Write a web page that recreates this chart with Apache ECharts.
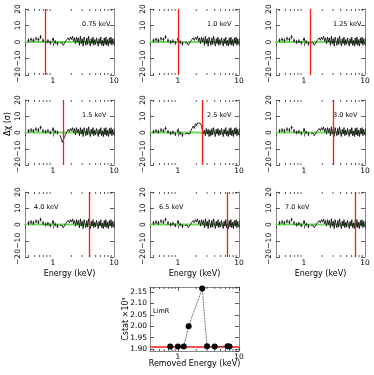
<!DOCTYPE html>
<html>
<head>
<meta charset="utf-8">
<script src="https://cdn.jsdelivr.net/npm/echarts@6/dist/echarts.min.js"></script>
<style>
html, body { margin: 0; padding: 0; background: #fff; }
#chart { width: 374px; height: 375px; }
</style>
</head>
<body>
<div id="chart"></div>
<script>
// one panel per removed line
var removedE = [0.75, 1.0, 1.25, 1.5, 2.5, 3.0, 4.0, 6.5, 7.0];
var panelLabels = ['0.75 keV', '1.0 keV', '1.25 keV', '1.5 keV', '2.5 keV', '3.0 keV', '4.0 keV', '6.5 keV', '7.0 keV'];

// low energy bins (drawn as crosses)
var lowE = [0.40, 0.44, 0.48, 0.53, 0.58, 0.63, 0.69, 0.76, 0.83, 0.91, 1.00, 1.09, 1.19];
var lowBase = [1.0, 1.5, 1.0, 2.0, 1.5, 3.0, 1.0, 0.0, 0.5, -0.5, 1.5, 0.0, -1.0];
var low15 = [1.0, 1.5, 1.0, 2.0, 1.5, 3.0, 1.0, 0.5, 1.0, 0.0, 2.0, 0.5, 0.0];
var low25 = [0.5, 1.0, 0.5, 1.5, 1.0, 2.5, 0.5, -0.5, 0.0, -1.0, 1.0, -0.5, -1.5];

// dense bins above ~1.3 keV
var denseE = [1.30, 1.36, 1.42, 1.48, 1.55, 1.62, 1.70, 1.78, 1.86, 1.94,
  2.02, 2.10, 2.18, 2.26, 2.35, 2.44, 2.53, 2.62, 2.72, 2.82,
  2.92, 3.02, 3.13, 3.24, 3.35, 3.47, 3.59, 3.71, 3.84, 3.97,
  4.10, 4.24, 4.38, 4.53, 4.68, 4.84, 5.00, 5.17, 5.34, 5.52,
  5.70, 5.89, 6.08, 6.28, 6.49, 6.70, 6.92, 7.15, 7.38, 7.62,
  7.87, 8.13, 8.40, 8.67, 8.95, 9.24, 9.54, 9.85];
var resBase = [-0.5, -1.0, -0.5, -2.0, -1.0, 0.5, 1.0, 2.5, 1.0, 3.0,
  1.5, 3.5, 0.5, 2.5, -1.0, 3.0, 0.0, 2.5, -2.0, 3.5,
  -1.0, 2.0, -2.5, 3.0, 0.5, -2.0, 2.5, -1.5, 3.5, 0.0,
  -2.5, 2.0, -1.0, 3.0, -2.0, 1.5, -1.5, 2.5, 0.0, -2.5,
  2.0, -1.0, 3.0, -2.0, 1.0, -2.5, 2.5, -1.5, 3.0, -2.0,
  1.5, -2.5, 2.5, -1.0, 3.0, -2.0, 2.0, -1.5];
var res15 = [-1.5, -3.5, -6.0, -5.0, -3.0, -1.0, 0.5, 2.0, 0.5, 2.5,
  1.0, 3.0, 0.0, 2.5, -1.5, 3.0, 0.0, 2.0, -2.0, 3.0,
  -1.0, 2.0, -2.5, 3.0, 0.5, -2.0, 2.5, -1.5, 3.5, 0.0,
  -2.5, 2.0, -1.0, 3.0, -2.0, 1.5, -1.5, 2.5, 0.0, -2.5,
  2.0, -1.0, 3.0, -2.0, 1.0, -2.5, 2.5, -1.5, 3.0, -2.0,
  1.5, -2.5, 2.5, -1.0, 3.0, -2.0, 2.0, -1.5];
var res25 = [-1.0, -1.0, -0.5, -1.5, -1.0, 0.0, 2.5, 4.0, 2.5, 5.5,
  4.0, 6.0, 5.0, 7.0, 5.5, 4.0, 1.0, -1.0, 1.5, -2.0,
  2.5, -1.0, 2.0, -2.5, 1.5, -2.0, 2.5, -1.5, 3.0, 0.0,
  -2.5, 2.0, -1.0, 2.5, -2.0, 1.5, -1.5, 2.5, 0.0, -2.5,
  2.0, -1.0, 3.0, -2.0, 1.0, -2.5, 2.5, -1.5, 3.0, -2.0,
  1.5, -2.5, 2.5, -1.0, 3.0, -2.0, 2.0, -1.5];

var panelLow = [lowBase, lowBase, lowBase, low15, low25, lowBase, lowBase, lowBase, lowBase];
var panelRes = [resBase, resBase, resBase, res15, res25, resBase, resBase, resBase, resBase];

// bottom panel: Cstat (x10^3) after removing each line
var cstat = [1.911, 1.911, 1.911, 2.000, 2.165, 1.912, 1.911, 1.912, 1.911];
var cstatRef = 1.910;

var minorX = [0.4, 0.5, 0.6, 0.7, 0.8, 0.9, 2, 3, 4, 5, 6, 7, 8, 9];

var FONT = 'DejaVu Sans';
var colLeft = [25, 150, 276];
var rowTop = [9, 100, 192];
var rowH = [66, 65, 65];
var PW = 89;
var FRAME = '#888';
var TICK = '#333';

var grids = [], xAxes = [], yAxes = [], series = [], texts = [];

function minus(v) { return v < 0 ? '\u2212' + (-v) : String(v); }
function xFmt(v) { return v >= 1 ? String(Math.round(v)) : ''; }
function fix2(v) { return v.toFixed(2); }

function minorTicks(params, api) {
  var cs = params.coordSys;
  var x = api.coord([api.value(0), api.value(1)])[0];
  return { type: 'group', children: [
    { type: 'line', shape: { x1: x, y1: cs.y, x2: x, y2: cs.y + 2 }, style: { stroke: TICK, lineWidth: 0.8 } },
    { type: 'line', shape: { x1: x, y1: cs.y + cs.height, x2: x, y2: cs.y + cs.height - 2 }, style: { stroke: TICK, lineWidth: 0.8 } }
  ] };
}

function crossItem(params, api) {
  var e = api.value(0), r = api.value(1);
  var p = api.coord([e, r]);
  var l = api.coord([e / 1.04, r])[0], rr = api.coord([e * 1.04, r])[0];
  var t = api.coord([e, r + 1.2])[1], b = api.coord([e, r - 1.2])[1];
  return { type: 'group', children: [
    { type: 'line', shape: { x1: l, y1: p[1], x2: rr, y2: p[1] }, style: { stroke: '#000', lineWidth: 0.8 } },
    { type: 'line', shape: { x1: p[0], y1: t, x2: p[0], y2: b }, style: { stroke: '#000', lineWidth: 0.8 } }
  ] };
}

function xAxisOpt(gi, pos) {
  return { type: 'log', logBase: 10, gridIndex: gi, position: pos, min: 0.35, max: 10,
    splitLine: { show: false },
    axisLine: { show: true, lineStyle: { color: FRAME, width: 1 } },
    axisTick: { show: true, inside: true, length: 4, lineStyle: { color: TICK, width: 0.8 } },
    axisLabel: pos === 'bottom'
      ? { show: true, fontFamily: FONT, fontSize: 7.5, color: '#000', margin: 2, showMinLabel: false, formatter: xFmt }
      : { show: false } };
}

function yAxisOpt(gi, pos, min, max, interval, label) {
  var o = { type: 'value', gridIndex: gi, position: pos, min: min, max: max,
    splitLine: { show: false },
    axisLine: { show: true, lineStyle: { color: FRAME, width: 1 } },
    axisTick: { show: true, inside: true, length: 4, lineStyle: { color: TICK, width: 0.8 } },
    axisLabel: pos === 'left' ? label : { show: false } };
  if (interval) o.interval = interval;
  return o;
}

for (var i = 0; i < 9; i++) {
  var col = i % 3, row = Math.floor(i / 3);
  var gLeft = colLeft[col], gTop = rowTop[row];
  grids.push({ left: gLeft, top: gTop, width: PW, height: rowH[row] });
  xAxes.push(xAxisOpt(i, 'bottom'));
  xAxes.push(xAxisOpt(i, 'top'));
  yAxes.push(yAxisOpt(i, 'left', -20, 20, 10,
    { show: true, fontFamily: FONT, fontSize: 7.5, color: '#000', rotate: 90, margin: 3, formatter: minus }));
  yAxes.push(yAxisOpt(i, 'right', -20, 20, 10, null));
  var xa = 2 * i, ya = 2 * i;
  // model at zero, with the removed line marked
  series.push({ type: 'line', xAxisIndex: xa, yAxisIndex: ya, data: [[0.35, 0], [10, 0]],
    symbol: 'none', silent: true, lineStyle: { color: '#6fdc5c', width: 2 }, z: 2,
    markLine: { symbol: ['none', 'none'], silent: true, label: { show: false },
      lineStyle: { color: '#ff1a1a', width: 1.3, type: 'solid' },
      data: [{ xAxis: removedE[i] }] } });
  var lowPts = lowE.map(function (e, k) { return [e, panelLow[i][k]]; });
  var dense = denseE.map(function (e, k) { return [e, panelRes[i][k]]; });
  series.push({ type: 'custom', xAxisIndex: xa, yAxisIndex: ya, data: lowPts,
    renderItem: crossItem, silent: true, z: 4 });
  series.push({ type: 'line', xAxisIndex: xa, yAxisIndex: ya, data: dense, symbol: 'none',
    silent: true, lineStyle: { color: '#000', width: 0.8 }, z: 4 });
  series.push({ type: 'custom', xAxisIndex: xa, yAxisIndex: ya,
    data: minorX.map(function (v) { return [v, 0]; }), renderItem: minorTicks, silent: true, z: 5 });
  texts.push({ type: 'text', x: gLeft + (row < 2 ? 57 : 9), y: gTop + 15.5,
    style: { text: panelLabels[i], font: '6.5px ' + FONT, fill: '#000', align: 'left', verticalAlign: 'middle' } });
}

// bottom summary panel
grids.push({ left: 150, top: 287, width: PW, height: 64 });
xAxes.push(xAxisOpt(9, 'bottom'));
xAxes.push(xAxisOpt(9, 'top'));
yAxes.push(yAxisOpt(9, 'left', 1.891, 2.172, null,
  { show: true, fontFamily: FONT, fontSize: 7.5, color: '#000', margin: 3, showMinLabel: false, showMaxLabel: false, formatter: fix2 }));
yAxes.push(yAxisOpt(9, 'right', 1.891, 2.172, null, null));
series.push({ type: 'line', xAxisIndex: 18, yAxisIndex: 18, silent: true,
  data: removedE.map(function (e, k) { return [e, cstat[k]]; }),
  symbol: 'circle', symbolSize: 6, itemStyle: { color: '#000' },
  lineStyle: { color: '#000', width: 0.8, type: 'dotted' }, z: 4,
  markLine: { symbol: ['none', 'none'], silent: true, label: { show: false }, z: 1,
    lineStyle: { color: '#ff1a1a', width: 1.5, type: 'solid' }, data: [{ yAxis: cstatRef }] } });
series.push({ type: 'custom', xAxisIndex: 18, yAxisIndex: 18,
  data: minorX.map(function (v) { return [v, 2.0]; }), renderItem: minorTicks, silent: true, z: 5 });

texts.push({ type: 'text', x: 153, y: 311,
  style: { text: 'LimR', font: '6.5px ' + FONT, fill: '#000', align: 'left', verticalAlign: 'middle' } });
texts.push({ type: 'text', x: 8, y: 124, rotation: Math.PI / 2,
  style: { text: 'Δχ (σ)', font: '8px ' + FONT, fill: '#000', align: 'center', verticalAlign: 'middle' } });
[0, 1, 2].forEach(function (c) {
  texts.push({ type: 'text', x: colLeft[c] + PW / 2, y: 274,
    style: { text: 'Energy (keV)', font: '8px ' + FONT, fill: '#000', align: 'center', verticalAlign: 'middle' } });
});
texts.push({ type: 'text', x: 194.5, y: 364,
  style: { text: 'Removed Energy (keV)', font: '8px ' + FONT, fill: '#000', align: 'center', verticalAlign: 'middle' } });
texts.push({ type: 'text', x: 126, y: 319, rotation: Math.PI / 2,
  style: { text: 'Cstat ×10³', font: '8px ' + FONT, fill: '#000', align: 'center', verticalAlign: 'middle' } });

var chart = echarts.init(document.getElementById('chart'), null, { renderer: 'canvas' });
chart.setOption({
  animation: false,
  backgroundColor: '#fff',
  grid: grids,
  xAxis: xAxes,
  yAxis: yAxes,
  series: series,
  graphic: { elements: texts }
});
</script>
</body>
</html>
